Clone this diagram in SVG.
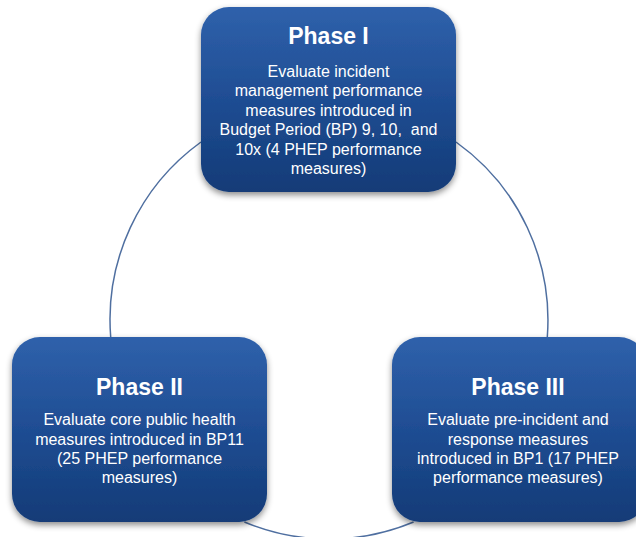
<svg xmlns="http://www.w3.org/2000/svg" width="636" height="537" viewBox="0 0 636 537">
<defs>
<linearGradient id="boxGrad" x1="0" y1="0" x2="0" y2="1">
<stop offset="0" stop-color="#2f61ab"/>
<stop offset="0.5" stop-color="#1f4d93"/>
<stop offset="1" stop-color="#123b77"/>
</linearGradient>
<filter id="shadow" x="-10%" y="-10%" width="125%" height="130%">
<feDropShadow dx="0" dy="3" stdDeviation="3" flood-color="#000" flood-opacity="0.45"/>
</filter>
</defs>
<style>
.box{fill:url(#boxGrad);filter:url(#shadow)}
.title{font-family:"Liberation Sans",Arial,sans-serif;font-weight:bold;font-size:23px;fill:#ffffff;text-anchor:middle}
.body{font-family:"Liberation Sans",Arial,sans-serif;font-size:16px;fill:#ffffff;text-anchor:middle}
.conn{fill:none;stroke:#4f6fa0;stroke-width:1.5}
</style>
<rect width="636" height="537" fill="#ffffff"/>
<g id="connectors">
<path class="conn" d="M201,142 A219,219 0 0 0 110.7,337"/>
<path class="conn" d="M456,142 A219,219 0 0 1 547.3,337"/>
<path class="conn" d="M244.4,522 A219,219 0 0 0 413.6,522"/>
</g>
<g id="phase1">
<rect class="box" x="201" y="7" width="255" height="185" rx="28" ry="28"/>
<text class="title" x="328.5" y="44">Phase I</text>
<text class="body" x="328.5" y="77">Evaluate incident</text>
<text class="body" x="328.5" y="96">management performance</text>
<text class="body" x="328.5" y="116">measures introduced in</text>
<text class="body" x="328.5" y="135" xml:space="preserve">Budget Period (BP) 9, 10,  and</text>
<text class="body" x="328.5" y="155">10x (4 PHEP performance</text>
<text class="body" x="328.5" y="174">measures)</text>
</g>
<g id="phase2">
<rect class="box" x="12" y="337" width="255" height="185" rx="28" ry="28"/>
<text class="title" x="139.5" y="395">Phase II</text>
<text class="body" x="139.5" y="425">Evaluate core public health</text>
<text class="body" x="139.5" y="445">measures introduced in BP11</text>
<text class="body" x="139.5" y="464">(25 PHEP performance</text>
<text class="body" x="139.5" y="483">measures)</text>
</g>
<g id="phase3">
<rect class="box" x="392" y="337" width="255" height="185" rx="28" ry="28"/>
<text class="title" x="518" y="395">Phase III</text>
<text class="body" x="518" y="425">Evaluate pre-incident and</text>
<text class="body" x="518" y="445">response measures</text>
<text class="body" x="518" y="464">introduced in BP1 (17 PHEP</text>
<text class="body" x="518" y="483">performance measures)</text>
</g>
</svg>
